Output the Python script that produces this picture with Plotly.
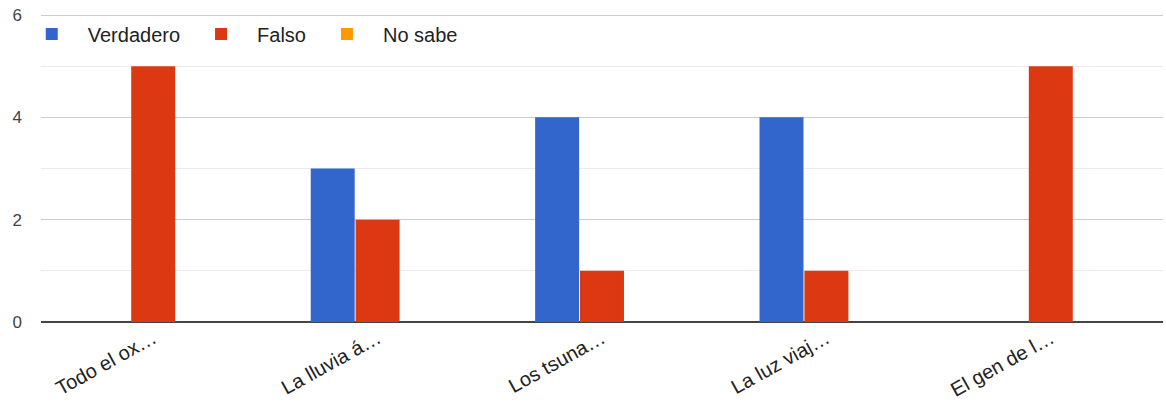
import plotly.graph_objects as go

categories = ["Todo el ox…", "La lluvia á…", "Los tsuna…", "La luz viaj…", "El gen de l…"]
verdadero = [0, 3, 4, 4, 0]
falso = [5, 2, 1, 1, 5]
no_sabe = [0, 0, 0, 0, 0]
y_ticks = [0, 2, 4, 6]

series = [
    ("Verdadero", verdadero, "#3366cc"),
    ("Falso", falso, "#dc3912"),
    ("No sabe", no_sabe, "#ff9900"),
]

fig = go.Figure()
for name, vals, color in series:
    fig.add_trace(go.Bar(
        x=categories, y=vals, name=name,
        marker=dict(color=color, line=dict(width=0)),
    ))

fig.update_layout(
    width=1166, height=403,
    margin=dict(l=41, r=3, t=13, b=81),
    paper_bgcolor="white", plot_bgcolor="white",
    font=dict(family="Arial, Liberation Sans, sans-serif", size=16, color="#444"),
    barmode="group",
    bargap=0.4,
    bargroupgap=0.02,
    showlegend=True,
    legend=dict(
        orientation="h", x=-0.0225, xanchor="left", y=0.995, yanchor="top",
        font=dict(size=20, color="#222"), bgcolor="rgba(255,255,255,0)",
        itemwidth=62, traceorder="normal",
    ),
    xaxis=dict(
        tickangle=-29, showgrid=False, ticks="", showline=False, automargin=False,
        tickfont=dict(size=20, color="#222"), fixedrange=True,
    ),
    yaxis=dict(
        range=[0, 6.04], tickvals=y_ticks, showgrid=True, gridcolor="#cccccc", gridwidth=1,
        zeroline=True, zerolinecolor="#444444", zerolinewidth=2, automargin=False,
        ticks="", ticklabelstandoff=18,
        tickfont=dict(size=17, color="#444"),
        minor=dict(dtick=1, showgrid=True, gridcolor="#ebebeb", gridwidth=1),
        fixedrange=True,
    ),
)

fig.write_html("out.html", config={"displayModeBar": False},
               post_script="document.body.style.margin='0px';")
